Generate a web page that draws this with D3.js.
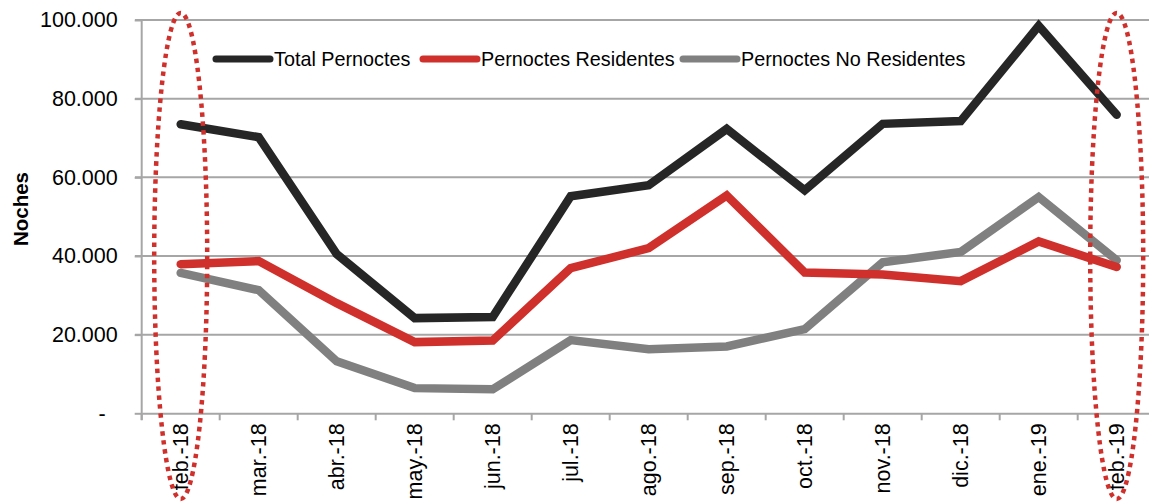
<!DOCTYPE html>
<html>
<head>
<meta charset="utf-8">
<script src="https://cdn.jsdelivr.net/npm/d3@7"></script>
<style>
  body { margin: 0; background: #fff; }
  svg { display: block; font-family: "Liberation Sans", Arial, sans-serif; }
</style>
</head>
<body>
<svg id="chart" width="1149" height="504"></svg>
<script>
var months = ['feb.-18', 'mar.-18', 'abr.-18', 'may.-18', 'jun.-18', 'jul.-18', 'ago.-18',
              'sep.-18', 'oct.-18', 'nov.-18', 'dic.-18', 'ene.-19', 'feb.-19'];
var totalPernoctes = [73500, 70200, 40500, 24200, 24500, 55200, 58000, 72300, 56700, 73600, 74300, 98500, 75900];
var residentes = [37900, 38700, 28000, 18100, 18500, 36900, 42000, 55400, 35800, 35300, 33600, 43700, 37200];
var noResidentes = [35700, 31300, 13200, 6400, 6100, 18600, 16300, 17000, 21400, 38400, 41000, 55000, 38900];
var yTicks = [0, 20000, 40000, 60000, 80000, 100000];

var series = [
  { key: 'Total Pernoctes', values: totalPernoctes, color: '#262626' },
  { key: 'Pernoctes Residentes', values: residentes, color: '#d0302b' },
  { key: 'Pernoctes No Residentes', values: noResidentes, color: '#808080' }
];

var svg = d3.select('#chart');
var x = d3.scaleBand().domain(months).range([141.7, 1155.7]);
var y = d3.scaleLinear().domain([0, 100000]).range([413.3, 20]);
var es = d3.formatLocale({ decimal: ',', thousands: '.', grouping: [3], currency: ['', ''] });
var fmt = es.format(',.0f');
var cx = function (m) { return x(m) + x.bandwidth() / 2; };

// gridlines
svg.append('g').selectAll('line').data(yTicks.slice(1)).enter().append('line')
    .attr('x1', 135).attr('x2', 1149)
    .attr('y1', function (d) { return y(d); }).attr('y2', function (d) { return y(d); })
    .attr('stroke', '#a6a6a6').attr('stroke-width', 2);

// y axis
var yAxis = svg.append('g').attr('transform', 'translate(141.7,0)')
    .call(d3.axisLeft(y).tickValues(yTicks).tickSize(7).tickPadding(17)
      .tickFormat(function (d) { return d === 0 ? '-' : fmt(d); }));
yAxis.select('.domain').remove();
yAxis.selectAll('.tick line').attr('stroke', '#a6a6a6').attr('stroke-width', 2);
yAxis.selectAll('.tick text').attr('font-size', '21.5px').attr('fill', '#000')
    .attr('font-family', '"Liberation Sans", Arial, sans-serif')
    .attr('dx', function (d) { return d === 0 ? -12 : 0; });
svg.append('line').attr('x1', 141.7).attr('x2', 141.7).attr('y1', 20).attr('y2', 420)
    .attr('stroke', '#a6a6a6').attr('stroke-width', 2);

// x axis
var xAxis = svg.append('g').attr('transform', 'translate(0,' + y(0) + ')')
    .call(d3.axisBottom(x).tickSize(0).tickPadding(0));
xAxis.select('.domain').attr('stroke', '#a6a6a6').attr('stroke-width', 2);
xAxis.selectAll('.tick text').attr('font-size', '21.5px').attr('fill', '#000')
    .attr('font-family', '"Liberation Sans", Arial, sans-serif')
    .attr('text-anchor', 'end').attr('dy', '0.35em')
    .attr('transform', 'translate(0,10) rotate(-90)');
svg.append('g').selectAll('line').data(months).enter().append('line')
    .attr('x1', function (d) { return x(d); }).attr('x2', function (d) { return x(d); })
    .attr('y1', y(0)).attr('y2', y(0) + 7)
    .attr('stroke', '#a6a6a6').attr('stroke-width', 2);

// y label
svg.append('text').attr('transform', 'translate(27.5,209) rotate(-90)')
    .attr('text-anchor', 'middle').attr('font-weight', 'bold').attr('font-size', '20.5px')
    .text('Noches');

// lines
var line = d3.line().x(function (d, i) { return cx(months[i]); }).y(function (d) { return y(d); });
svg.append('g').selectAll('path').data(series.slice().reverse()).enter().append('path')
    .attr('d', function (s) { return line(s.values); })
    .attr('fill', 'none').attr('stroke', function (s) { return s.color; })
    .attr('stroke-width', 8.5).attr('stroke-linecap', 'round').attr('stroke-linejoin', 'miter');

// legend
var legendX = [216, 423, 683];
var lg = svg.append('g').selectAll('g').data(series).enter().append('g')
    .attr('transform', function (s, i) { return 'translate(' + legendX[i] + ',59)'; });
lg.append('line').attr('x1', 0).attr('x2', 54).attr('y1', 0).attr('y2', 0)
    .attr('stroke', function (s) { return s.color; }).attr('stroke-width', 7).attr('stroke-linecap', 'round');
lg.append('text').attr('x', 58).attr('dy', '0.35em').attr('font-size', '19.8px').text(function (s) { return s.key; });

// highlight ellipses around first and last month
var marks = [months[0], months[months.length - 1]];
svg.append('g').selectAll('ellipse').data(marks).enter().append('ellipse')
    .attr('cx', function (d) { return cx(d); }).attr('cy', 256).attr('rx', 26.5).attr('ry', 243)
    .attr('fill', 'none').attr('stroke', '#d0302b').attr('stroke-width', 4.5)
    .attr('stroke-dasharray', '4.5 4.5');
</script>
</body>
</html>
